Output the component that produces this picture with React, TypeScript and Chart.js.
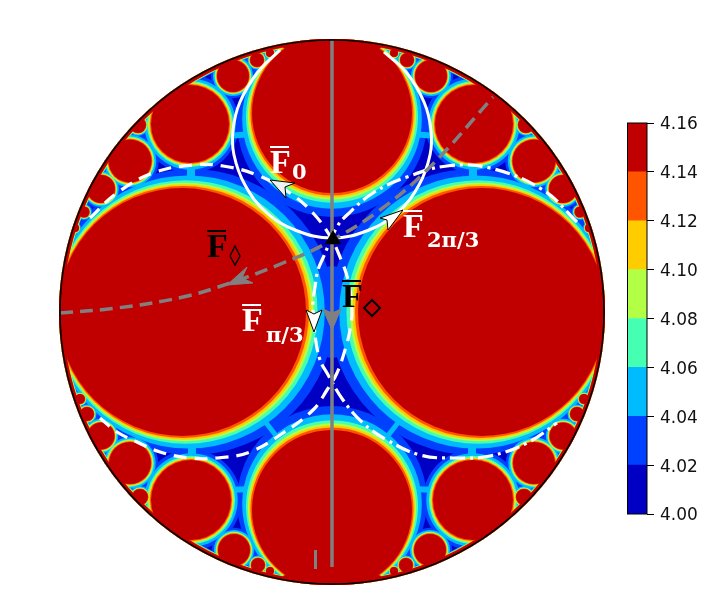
import React, { useEffect, useRef } from "react";
import { Chart, registerables } from "chart.js";

Chart.register(...registerables);

// Colour-bar levels
const levelEdges = [4.0, 4.02, 4.04, 4.06, 4.08, 4.1, 4.12, 4.14, 4.16];
const levelColors = ["#0000c4", "#0040ff", "#00bcff", "#45ffb2", "#b2ff45", "#ffcc00", "#ff5500", "#c00000"];
// distance of each level's contour from a large disc's edge, level 1 (blue) upward
const levelReach = [19, 12.5, 7.7, 5.3, 3.7, 2, 0];
const rimReach = [5, 4.5, 4, 3.7, 3.4, 3.2, 3];

// Plateau discs of the field (centre x, centre y, radius), disk radius = 272
const discX = [-150, 150, 0, 0,
  -142, -202, -99, -231, -75, -62, -194, -248, -257, -46,
  142, 202, 99, 231, 75, 62, 194, 248, 257, 46,
  -141, -202, -98, -231, -74, -62, -192, -245, -252, -46,
  141, 202, 98, 231, 74, 62, 192, 245, 252, 46];
const discY = [0, 0, 199, -198,
  188, 151, 236, 123, 252, 259, 187, 100, 84, 266,
  188, 151, 236, 123, 252, 259, 187, 100, 84, 266,
  -188, -151, -238, -124, -253, -259, -185, -102, -87, -266,
  -188, -151, -238, -124, -253, -259, -185, -102, -87, -266];
const discR = [124, 124, 80, 80,
  39, 21.5, 16, 14, 7, 4, 8, 5.5, 4, 3,
  39, 21.5, 16, 14, 7, 4, 8, 5.5, 4, 3,
  40, 21, 16, 13.5, 7, 4, 8, 7, 5, 3,
  40, 21, 16, 13.5, 7, 4, 8, 7, 5, 3];
// how far each disc's bands lean towards the middle of the figure
const discLean = [0.5, 0.5, 0.6, 0.6];

// Extra 4.02-4.04 patches at the waist between the two large discs
const patchX = [0, 0];
const patchY = [33, -33];
const patchR = [13, 13];

// Saddles of the field: where the 4.04-4.06 band closes across a gap (pairs of ends)
const saddleStartX = [-141, 141, -80, 80, -140, 140, -80, 80, -75, 75];
const saddleStartY = [123, 123, 178, 178, -124, -124, -177, -177, -99, -99];
const saddleEndX = [-141, 141, -104, 104, -140, 140, -104, 104, -48, 48];
const saddleEndY = [149, 149, 176, 176, -149, -149, -178, -178, -134, -134];
const saddleWidth = [8, 8, 6, 6, 8, 8, 6, 6, 5, 5];

// Curves
const solidX = [-52, -74, -92, -99, -98, -87, -66, -37, 0, 37, 66, 87, 98, 99, 92, 74, 52];
const solidY = [262, 240, 210, 182, 157, 127, 100, 82, 74, 82, 100, 127, 157, 182, 210, 240, 260];
const dashX = [-242, -215, -179, -139, -109, -75, -42, -19, -2, 8, 16, 20, 18, 13, 5, -5, -19, -49, -82, -115, -142, -172, -195, -215, -232];
const dashY = [94, 119, 139, 147, 146, 137, 119, 99, 76, 55, 32, 2, -18, -38, -61, -78, -98, -121, -140, -146, -146, -140, -130, -120, -106];
const dashDotX = [245, 211, 158, 115, 75, 41, 15, 5, -9, -14, -17, -19, -17, -12, -5, 11, 31, 55, 88, 121, 158, 195, 225];
const dashDotY = [90, 122, 144, 146, 135, 119, 97, 85, 54, 42, 25, 9, -23, -48, -61, -88, -111, -128, -143, -146, -144, -131, -111];
const greyCurveX = [-272, -215, -149, -102, -49, -5, 48, 98, 161];
const greyCurveY = [-1, 4, 15, 29, 49, 69, 102, 145, 215];
const greyLineX = [0, 0];
const greyLineY = [272, -255];
const greyTickX = [-16.5, -16.5];
const greyTickY = [-238, -257];

// Arrow heads
const arrowGreyLeftX = [-105, -79, -90, -85, -105];
const arrowGreyLeftY = [27, 29, 34, 45, 27];
const arrowGreyDownX = [0, -9, 0, 9, 0];
const arrowGreyDownY = [-18, 3, -1, 3, -18];
const arrowPiX = [-18, -26, -18, -10, -18];
const arrowPiY = [-20, 2, -2, 2, -20];
const arrowZeroX = [-62, -37, -47, -46, -62];
const arrowZeroY = [132, 129, 125, 114, 132];
const arrowTwoPiX = [71, 48, 55, 56, 71];
const arrowTwoPiY = [102, 94, 92, 82, 102];
const lozengeX = [-102, -97, -92, -97, -102];
const lozengeY = [56, 66, 56, 47, 56];
const markerTriangle = [{ x: 1, y: 72.5 }];
const markerDiamond = [{ x: 40, y: 4 }];

// Labels
const labelMain = ["F", "F", "F", "F", "F"];
const labelSub = ["0", "2π/3", "π/3", "", ""];
const labelX = [-62, 71, -90, 10, -125];
const labelY = [139, 75, -19, 5, 55];
const labelColor = ["#ffffff", "#ffffff", "#ffffff", "#000000", "#000000"];
const subDx = [22, 24, 24, 0, 0];
const subDy = [6, 10, 11, 0, 0];

const zip = (xs: number[], ys: number[]) => xs.map((x, i) => ({ x, y: ys[i] }));

export default function App() {
  const mainRef = useRef<HTMLCanvasElement>(null);
  const barRef = useRef<HTMLCanvasElement>(null);

  useEffect(() => {
    const toPx = (c: any, v: number) => {
      const s = c.chart.scales.x;
      return Math.abs(s.getPixelForValue(v) - s.getPixelForValue(0));
    };
    const bandWidth = (r: number, reach: number) => reach * Math.pow(r / 124, 0.55);
    const centre = [{ x: 0, y: 0 }];
    const sets: any[] = [];
    sets.push({
      type: "scatter", data: centre, pointRadius: (c: any) => toPx(c, 272),
      pointBackgroundColor: levelColors[0], pointBorderWidth: 0,
    });
    levelReach.forEach((reach, k) => {
      const color = levelColors[k + 1];
      const discs = discX.map((x, i) => {
        const y = discY[i];
        const r = discR[i];
        const lean = (discLean[i] || 0) * bandWidth(r, reach);
        const d = Math.hypot(x, y);
        return { x: x - (x / d) * lean, y: y - (y / d) * lean, r: r + bandWidth(r, reach) };
      });
      if (k === 0) {
        patchX.forEach((x, i) => discs.push({ x, y: patchY[i], r: patchR[i] }));
      }
      sets.push({
        type: "scatter", data: discs,
        pointRadius: (c: any) => toPx(c, c.raw.r),
        pointBackgroundColor: color, pointBorderWidth: 0,
      });
      sets.push({
        type: "scatter", data: centre, pointRadius: (c: any) => toPx(c, 272),
        pointBackgroundColor: "transparent", pointBorderColor: color, pointBorderWidth: rimReach[k] * 2,
      });
      if (k === 1) {
        saddleStartX.forEach((x, i) => {
          sets.push({
            type: "line",
            data: [{ x, y: saddleStartY[i] }, { x: saddleEndX[i], y: saddleEndY[i] }],
            borderColor: color, borderWidth: saddleWidth[i], pointRadius: 0, fill: false,
          });
        });
      }
    });
    const line = (xs: number[], ys: number[], color: string, width: number, dash: number[], tension = 0.4) => ({
      type: "line", data: zip(xs, ys), borderColor: color, borderWidth: width,
      borderDash: dash, pointRadius: 0, tension, fill: false, borderCapStyle: "butt",
    });
    const head = (xs: number[], ys: number[], fillColor: string, edge: string) => ({
      type: "line", data: zip(xs, ys), borderColor: edge, borderWidth: 1, backgroundColor: fillColor,
      pointRadius: 0, tension: 0, fill: "shape",
    });
    sets.push(line(solidX, solidY, "#ffffff", 3, []));
    sets.push(line(dashX, dashY, "#ffffff", 3.2, [13, 8]));
    sets.push(line(dashDotX, dashDotY, "#ffffff", 3.2, [15, 5, 3, 5]));
    sets.push(line(greyLineX, greyLineY, "#808080", 3.5, [], 0));
    sets.push(line(greyTickX, greyTickY, "#808080", 3, [], 0));
    sets.push(line(greyCurveX, greyCurveY, "#808080", 3.5, [13, 7]));
    sets.push(head(arrowGreyLeftX, arrowGreyLeftY, "#808080", "#808080"));
    sets.push(head(arrowGreyDownX, arrowGreyDownY, "#808080", "#808080"));
    sets.push(head(arrowPiX, arrowPiY, "#ffffff", "#000000"));
    sets.push(head(arrowZeroX, arrowZeroY, "#f0f0f0", "#000000"));
    sets.push(head(arrowTwoPiX, arrowTwoPiY, "#ffffff", "#000000"));
    sets.push({ ...line(lozengeX, lozengeY, "#000000", 1.4, [], 0) });
    sets.push({
      type: "scatter", data: markerTriangle, pointStyle: "triangle", pointRadius: 9.5,
      pointBackgroundColor: "#000000", pointBorderWidth: 0,
    });
    sets.push({
      type: "scatter", data: markerDiamond, pointStyle: "rectRot", pointRadius: 8,
      pointBackgroundColor: "transparent", pointBorderColor: "#000000", pointBorderWidth: 2,
    });
    sets.push({
      type: "scatter", data: centre, pointRadius: (c: any) => toPx(c, 272),
      pointBackgroundColor: "transparent", pointBorderColor: "#000000", pointBorderWidth: 1.6,
    });

    const diskPlugin = {
      id: "disk",
      beforeDatasetsDraw(chart: any) {
        const { ctx, scales } = chart;
        const cx = scales.x.getPixelForValue(0);
        const cy = scales.y.getPixelForValue(0);
        const rad = Math.abs(scales.x.getPixelForValue(273) - cx);
        ctx.save();
        ctx.beginPath();
        ctx.arc(cx, cy, rad, 0, Math.PI * 2);
        ctx.clip();
      },
      afterDatasetsDraw(chart: any) {
        const { ctx, scales } = chart;
        ctx.restore();
        ctx.save();
        labelMain.forEach((t, i) => {
          const px = scales.x.getPixelForValue(labelX[i]);
          const py = scales.y.getPixelForValue(labelY[i]);
          ctx.fillStyle = labelColor[i];
          ctx.textBaseline = "alphabetic";
          ctx.font = "bold 34px 'Liberation Serif'";
          ctx.fillText(t, px, py);
          ctx.fillRect(px, py - 27, 19, 2);
          if (labelSub[i]) {
            ctx.font = "bold 21px 'DejaVu Serif'";
            ctx.fillText(labelSub[i], px + subDx[i], py + subDy[i]);
          }
        });
        ctx.restore();
      },
    };

    const main = new Chart(mainRef.current!, {
      type: "scatter",
      data: { datasets: sets.slice().reverse() },
      options: {
        responsive: false, animation: false, devicePixelRatio: 1, events: [],
        layout: { padding: 0, autoPadding: false },
        plugins: { legend: { display: false }, tooltip: { enabled: false } },
        scales: {
          x: { type: "linear", display: false, min: -332, max: 391 },
          y: { type: "linear", display: false, min: -303, max: 312 },
        },
      },
      plugins: [diskPlugin],
    } as any);

    const framePlugin = {
      id: "frame",
      afterDraw(chart: any) {
        const { ctx, chartArea: a } = chart;
        ctx.save();
        ctx.strokeStyle = "#000000";
        ctx.lineWidth = 1;
        ctx.strokeRect(a.left + 0.5, a.top, a.right - a.left - 0.5, a.bottom - a.top);
        ctx.restore();
      },
    };
    const bar = new Chart(barRef.current!, {
      type: "bar",
      data: {
        labels: [""],
        datasets: levelColors.map((color, i) => ({
          data: [[levelEdges[i], levelEdges[i + 1]]],
          backgroundColor: color, borderWidth: 0, barPercentage: 1, categoryPercentage: 1, grouped: false,
        })),
      },
      options: {
        responsive: false, animation: false, devicePixelRatio: 1, events: [],
        layout: { padding: { top: 13, bottom: 14, left: 0, right: 0 }, autoPadding: false },
        plugins: { legend: { display: false }, tooltip: { enabled: false } },
        scales: {
          x: { display: false, stacked: false },
          y: {
            position: "right", min: 4.0, max: 4.16,
            afterFit: (s: any) => { s.width = 76; s.paddingTop = 0; s.paddingBottom = 0; },
            border: { display: false },
            grid: { drawOnChartArea: false, drawTicks: true, tickLength: 7, color: "#000000" },
            ticks: {
              stepSize: 0.02, padding: 6, autoSkip: false, color: "#111111", labelOffset: 2,
              font: { family: "'DejaVu Sans'", size: 17 },
              callback: (v: any) => Number(v).toFixed(2),
            },
          },
        },
      },
      plugins: [framePlugin],
    } as any);

    return () => { main.destroy(); bar.destroy(); };
  }, []);

  return (
    <div style={{ position: "fixed", left: 0, top: 0, width: 723, height: 615, background: "#ffffff", overflow: "hidden" }}>
      <canvas ref={mainRef} width={723} height={615} style={{ position: "absolute", left: 0, top: 0, width: 723, height: 615 }} />
      <canvas ref={barRef} width={96} height={418} style={{ position: "absolute", left: 627, top: 110, width: 96, height: 418 }} />
    </div>
  );
}
